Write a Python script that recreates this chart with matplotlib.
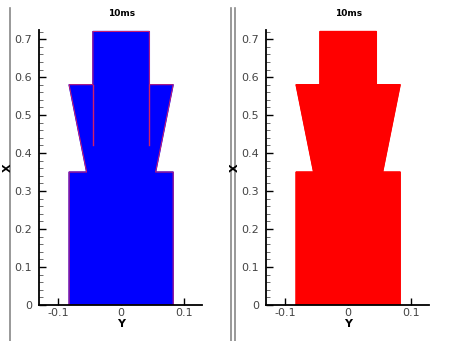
import matplotlib
matplotlib.use("Agg")
import matplotlib.pyplot as plt
from matplotlib.lines import Line2D

# Axisymmetric body outline (radial coordinate Y, axial coordinate X)
outline_y = [-0.083, 0.083, 0.083, 0.055, 0.083, 0.045, 0.045,
             -0.045, -0.045, -0.083, -0.055, -0.083]
outline_x = [0.0, 0.0, 0.35, 0.35, 0.58, 0.58, 0.72,
             0.72, 0.58, 0.58, 0.35, 0.35]

# Inner interface edges visible in the first field
inner_y = [[-0.045, -0.045], [0.045, 0.045]]
inner_x = [[0.58, 0.42], [0.58, 0.42]]

panel_titles = ["10ms", "10ms"]
panel_colors = ["#0000ff", "#ff0000"]
yticks = [0, 0.1, 0.2, 0.3, 0.4, 0.5, 0.6, 0.7]
ytick_labels = ["0", "0.1", "0.2", "0.3", "0.4", "0.5", "0.6", "0.7"]
xticks = [-0.1, 0, 0.1]
xtick_labels = ["-0.1", "0", "0.1"]

W, H = 454, 341
fig = plt.figure(figsize=(W / 100, H / 100), dpi=100)
fig.patch.set_facecolor("white")

plt.rcParams["font.family"] = ["DejaVu Sans"]


def px_rect(x0, y_top, x1, y_bot):
    return [x0 / W, 1 - y_bot / H, (x1 - x0) / W, (y_bot - y_top) / H]


axes_px = [(39, 30, 202, 305), (266, 30, 429, 305)]

for i, (x0, yt, x1, yb) in enumerate(axes_px):
    ax = fig.add_axes(px_rect(x0, yt, x1, yb))
    ax.set_xlim(-0.131, 0.129)
    ax.set_ylim(0, 0.724)
    ax.fill(outline_y, outline_x, color=panel_colors[i], zorder=2)
    edge = "#d0206a" if i == 0 else "#ff0000"
    ax.plot(outline_y + outline_y[:1], outline_x + outline_x[:1],
            color=edge, lw=0.7, zorder=3)
    if i == 0:
        for yy, xx in zip(inner_y, inner_x):
            ax.plot(yy, xx, color="#d0206a", lw=1.0, zorder=3)
    for s in ["top", "right"]:
        ax.spines[s].set_visible(False)
    for s in ["left", "bottom"]:
        ax.spines[s].set_linewidth(1.3)
        ax.spines[s].set_color("black")
        ax.spines[s].set_zorder(4)
    ax.set_yticks(yticks)
    ax.set_yticklabels(ytick_labels)
    ax.set_yticks([v / 100 for v in range(0, 73, 2)], minor=True)
    ax.set_xticks(xticks)
    ax.set_xticklabels(xtick_labels)
    ax.tick_params(axis="y", which="major", direction="in", length=5,
                   width=1.0, labelsize=8, pad=5, labelcolor="#444444")
    ax.tick_params(axis="y", which="minor", direction="in", length=3,
                   width=0.6, color="#555555")
    ax.tick_params(axis="x", which="major", direction="in", length=5,
                   width=1.0, labelsize=8, pad=2, labelcolor="#444444")
    ax.set_facecolor("none")

    cx = x0 + (121.3 - 39)
    fig.text(cx / W, 1 - 14 / H, panel_titles[i], ha="center", va="center",
             fontsize=6.5, fontweight="bold")
    fig.text(cx / W, 1 - 324 / H, "Y", ha="center", va="center",
             fontsize=8, fontweight="bold")
    fig.text((x0 - 31) / W, 1 - 168 / H, "X", ha="center", va="center",
             fontsize=8, fontweight="bold", rotation=90)

# Panel frame lines
for xp in (10, 231, 235):
    fig.add_artist(Line2D([xp / W, xp / W], [0, 1 - 8 / H],
                          color="#888888", lw=1.2))

fig.savefig("out.png", dpi=100)
